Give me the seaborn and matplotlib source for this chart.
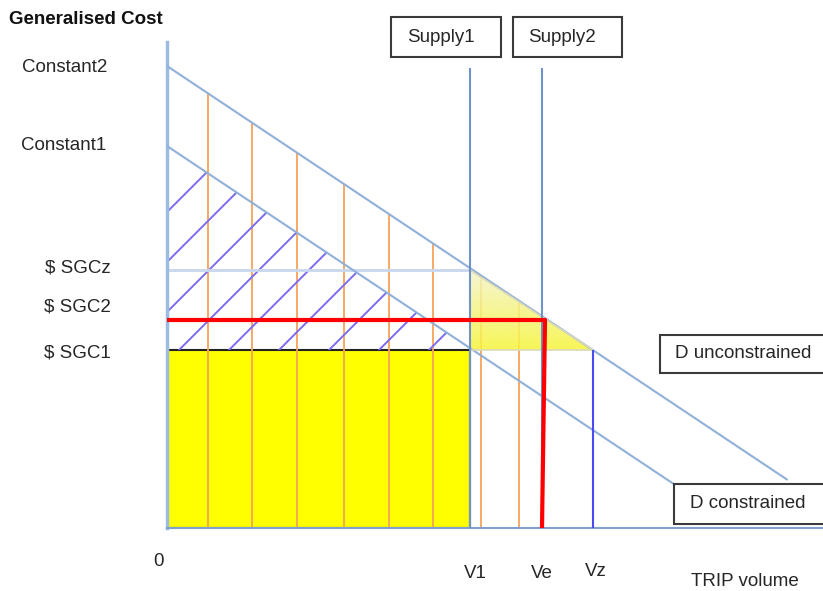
import numpy as np
import pandas as pd
import matplotlib
matplotlib.use("Agg")
import matplotlib.pyplot as plt
from matplotlib.patches import Rectangle, Polygon
from matplotlib.colors import LinearSegmentedColormap
import seaborn as sns

# demand curves: cost = intercept - slope * volume
const1 = 382          # D constrained intercept
const2 = 462          # D unconstrained intercept
slope = 0.667
d_con_end = 506
d_unc_end = 620

# volumes
v1 = 303
ve = 375
ve_top = 378          # red line leans a little
vz = 426

# generalised cost levels
sgc1 = 178
sgc2 = 208
sgcz = 258

supply_top = 460
orange_x = [41, 85, 130, 177, 222, 266, 314, 352]

W, H = 823, 591


def fx(px):
    return px / W


def fy(py):
    return 1 - py / H


def main():
    sns.set_style("white")
    plt.rcParams["font.family"] = ["Liberation Sans", "DejaVu Sans"]

    fig = plt.figure(figsize=(W / 100, H / 100), dpi=100)
    ax = fig.add_axes([fx(167), fy(528), fx(823 - 167), (528 - 42) / H])

    # demand curves
    df = pd.DataFrame({
        "volume": [0, d_con_end, 0, d_unc_end],
        "cost": [const1, const1 - slope * d_con_end, const2, const2 - slope * d_unc_end],
        "curve": ["D constrained", "D constrained", "D unconstrained", "D unconstrained"],
    })
    sns.lineplot(data=df, x="volume", y="cost", hue="curve",
                 palette={"D constrained": "#8fb0d8", "D unconstrained": "#8fb0d8"},
                 legend=False, ax=ax, lw=1.5, zorder=3)

    # yellow rectangle (consumer spend)
    ax.add_patch(Rectangle((0, 0), v1, sgc1, facecolor="#ffff00",
                           edgecolor="#222222", lw=1.5, zorder=1))

    # orange verticals below D unconstrained
    ox = np.array(orange_x)
    ax.vlines(ox, 0, const2 - slope * ox, color="#f7a25a", lw=1.3, zorder=2)

    # hatched area between SGC1 and D constrained
    x_int = (const1 - sgc1) / slope
    xs = np.linspace(0, x_int, 50)
    poly = ax.fill_between(xs, sgc1, const1 - slope * xs, color="none", lw=0)
    clip = poly.get_paths()[0]
    for c in np.arange(-84, 317, 50):
        ln, = ax.plot([0, 400], [c, c + 400], color="#7b6cf0", lw=1.4, zorder=2)
        ln.set_clip_path(clip, ax.transData)

    # gradient triangle
    tri = Polygon([[v1, sgcz], [v1, sgc1], [vz, sgc1]], closed=True,
                  facecolor="none", edgecolor="#d9d9b8", lw=1.2, zorder=3)
    ax.add_patch(tri)
    cmap = LinearSegmentedColormap.from_list("yl", ["#f7f43a", "#f4f4cc"])
    grad = np.linspace(0, 1, 100).reshape(-1, 1)
    im = ax.imshow(grad, extent=[v1, vz, sgc1, sgcz], cmap=cmap, origin="lower",
                   aspect="auto", alpha=0.85, zorder=2.5)
    im.set_clip_path(tri)

    # SGCz light line
    ax.hlines(sgcz, 0, v1, color="#c9d7ee", lw=2, zorder=2)

    # supply lines
    ax.vlines([v1, ve], 0, supply_top, color="#6f93c8", lw=1.5, zorder=4)

    # Vz line
    ax.vlines(vz, 0, sgc1, color="#4a4af0", lw=1.5, zorder=4)

    # red equilibrium lines
    ax.plot([0, ve_top], [sgc2, sgc2], color="#ff0000", lw=3, zorder=5)
    ax.plot([ve_top, ve], [sgc2, 0], color="#ff0000", lw=3, zorder=5)

    ax.set_xlim(0, 656)
    ax.set_ylim(0, 486)
    ax.set_xticks([])
    ax.set_yticks([])
    ax.set_xlabel("")
    ax.set_ylabel("")
    sns.despine(ax=ax)
    ax.spines["left"].set_color("#9dbbe0")
    ax.spines["left"].set_linewidth(2.5)
    ax.spines["bottom"].set_color("#7fa0d0")
    ax.spines["bottom"].set_linewidth(1.5)

    # labels
    fs = 13.5
    fig.text(fx(9), fy(20), "Generalised Cost", fontsize=13.5, fontweight="bold",
             va="center", ha="left", color="#111111")
    fig.text(fx(22), fy(68), "Constant2", fontsize=fs, va="center", ha="left")
    fig.text(fx(21), fy(145), "Constant1", fontsize=fs, va="center", ha="left")
    fig.text(fx(111), fy(268), "$ SGCz", fontsize=fs, va="center", ha="right")
    fig.text(fx(111), fy(307), "$ SGC2", fontsize=fs, va="center", ha="right")
    fig.text(fx(111), fy(353), "$ SGC1", fontsize=fs, va="center", ha="right")
    fig.text(fx(158), fy(562), "0", fontsize=fs, va="center", ha="center")
    fig.text(fx(475), fy(574), "V1", fontsize=fs, va="center", ha="center")
    fig.text(fx(542), fy(574), "Ve", fontsize=fs, va="center", ha="center")
    fig.text(fx(596), fy(571), "Vz", fontsize=fs, va="center", ha="center")
    fig.text(fx(691), fy(581), "TRIP volume", fontsize=fs, va="center", ha="left")

    # boxed labels
    boxes = [
        (391, 17, 501, 57, "Supply1", 407),
        (513, 17, 622, 57, "Supply2", 528),
        (660, 335, 840, 373, "D unconstrained", 675),
        (674, 484, 840, 524, "D constrained", 690),
    ]
    for x0, y0, x1, y1, txt, tx in boxes:
        fig.add_artist(Rectangle((fx(x0), fy(y1)), (x1 - x0) / W, (y1 - y0) / H,
                                 transform=fig.transFigure, facecolor="white",
                                 edgecolor="#3a3a3a", lw=1.5, zorder=6))
        fig.text(fx(tx), fy((y0 + y1) / 2), txt, fontsize=fs, va="center",
                 ha="left", zorder=7)

    fig.savefig("out.png", dpi=100)


if __name__ == "__main__":
    main()
